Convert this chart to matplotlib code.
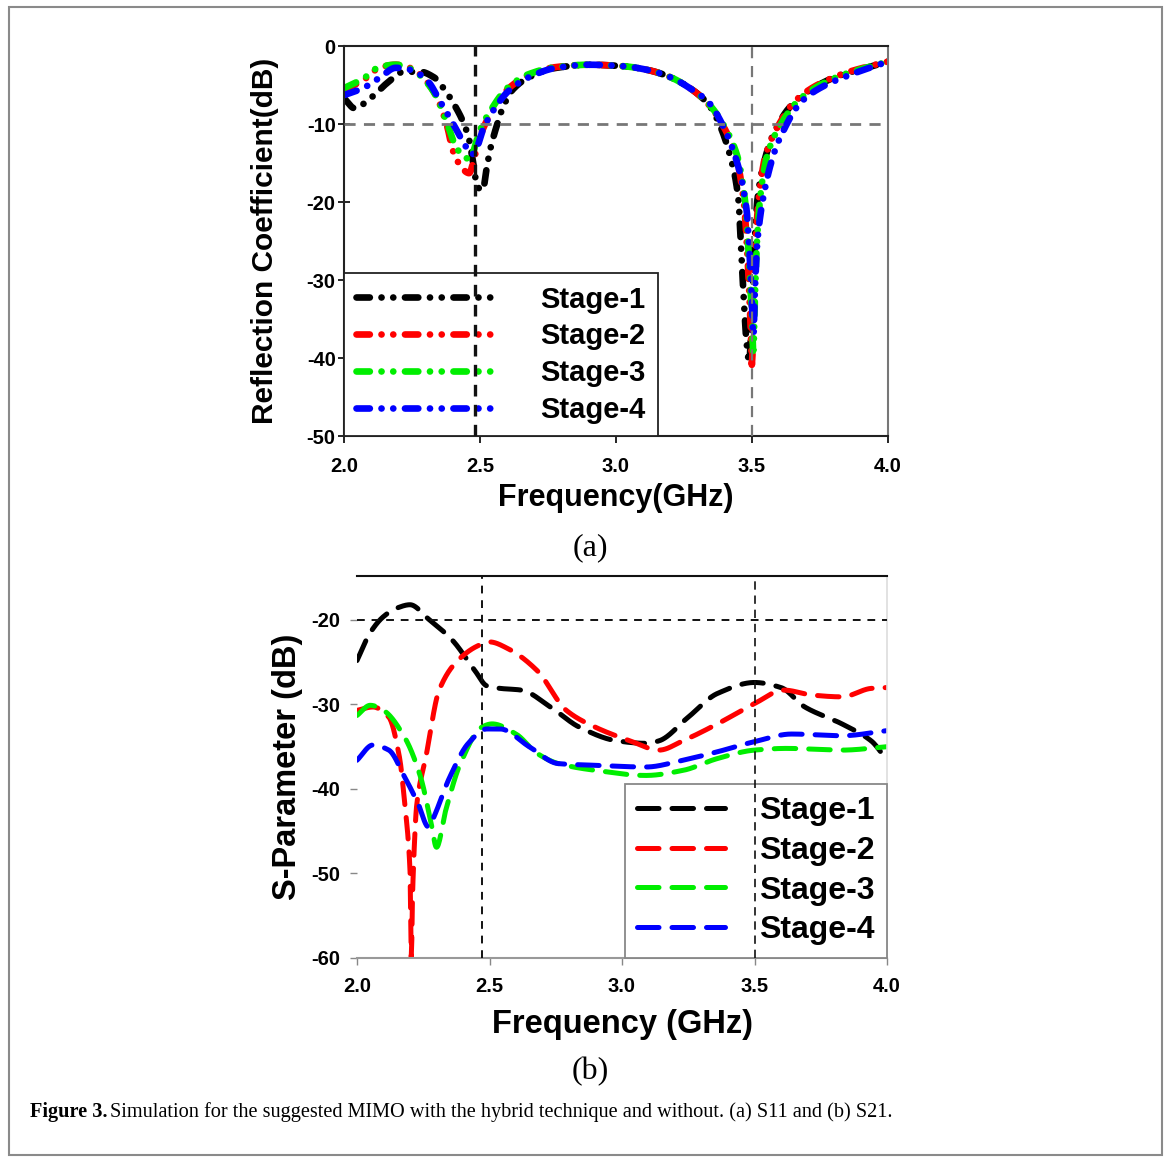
import numpy as np
import matplotlib
matplotlib.use("Agg")
import matplotlib.pyplot as plt
from matplotlib.patches import Rectangle

plt.rcParams["font.family"] = ["Liberation Sans", "DejaVu Sans"]

STAGES = ["Stage-1", "Stage-2", "Stage-3", "Stage-4"]
COLORS = ["#000000", "#ff0000", "#00ee00", "#0000ff"]

# (a) S11 reflection coefficient, dB
f1_s11 = [2.00, 2.04, 2.08, 2.12, 2.16, 2.22, 2.28, 2.33, 2.37, 2.41, 2.44, 2.46, 2.475, 2.49, 2.51, 2.525,
          2.54, 2.56, 2.585, 2.62, 2.68, 2.78, 2.90, 3.03, 3.12, 3.20, 3.28, 3.34, 3.38, 3.43, 3.45, 3.46,
          3.47, 3.48, 3.49, 3.50, 3.51, 3.52, 3.54, 3.58, 3.64, 3.72, 3.82, 3.92, 4.00]
s11_1 = [-6.7, -8.0, -7.2, -6.0, -4.7, -3.3, -3.3, -4.0, -5.6, -7.8, -9.9, -12.0, -15.0, -18.0, -18.5, -15.5,
         -12.9, -10.4, -7.8, -5.6, -4.0, -2.8, -2.4, -2.6, -3.1, -4.0, -5.6, -7.5, -10.0, -15.5, -19.7, -26.0,
         -32.6, -38.0, -40.5, -33.0, -25.0, -19.7, -15.5, -11.2, -7.8, -5.5, -3.8, -2.8, -2.0]
f2_s11 = [2.00, 2.07, 2.13, 2.19, 2.25, 2.30, 2.34, 2.38, 2.40, 2.44, 2.46, 2.48, 2.50, 2.54, 2.60, 2.68,
          2.78, 2.90, 3.03, 3.12, 3.20, 3.28, 3.34, 3.39, 3.44, 3.47, 3.485, 3.495, 3.50, 3.505, 3.515,
          3.53, 3.55, 3.60, 3.66, 3.74, 3.84, 3.93, 4.00]
s11_2 = [-5.6, -4.4, -2.8, -2.4, -2.9, -4.4, -6.5, -10.4, -13.4, -15.9, -16.3, -14.2, -11.6, -8.6, -5.6, -3.7,
         -2.7, -2.4, -2.6, -3.1, -4.0, -5.6, -7.5, -10.0, -14.0, -20.0, -28.0, -36.0, -41.0, -34.0, -24.0,
         -18.0, -14.0, -10.0, -7.0, -5.0, -3.5, -2.6, -2.0]
f3_s11 = [2.00, 2.07, 2.13, 2.19, 2.25, 2.30, 2.34, 2.38, 2.41, 2.44, 2.465, 2.48, 2.50, 2.54, 2.60, 2.68,
          2.78, 2.90, 3.03, 3.12, 3.20, 3.28, 3.34, 3.39, 3.445, 3.475, 3.49, 3.50, 3.505, 3.51, 3.52,
          3.535, 3.56, 3.61, 3.67, 3.75, 3.85, 3.94, 4.00]
s11_3 = [-5.4, -4.2, -2.7, -2.4, -3.0, -4.5, -6.5, -10.0, -12.8, -14.2, -14.5, -13.0, -10.8, -8.2, -5.4, -3.6,
         -2.7, -2.4, -2.6, -3.1, -4.0, -5.6, -7.4, -9.8, -14.0, -20.0, -28.0, -35.0, -39.5, -33.0, -24.0,
         -18.0, -13.5, -9.8, -7.0, -5.0, -3.5, -2.6, -2.0]
f4_s11 = [2.00, 2.07, 2.13, 2.19, 2.25, 2.31, 2.35, 2.40, 2.44, 2.47, 2.49, 2.51, 2.55, 2.61, 2.68, 2.78,
          2.90, 3.03, 3.12, 3.20, 3.28, 3.34, 3.39, 3.45, 3.48, 3.49, 3.50, 3.505, 3.51, 3.52, 3.54, 3.57,
          3.60, 3.68, 3.76, 3.86, 3.94, 4.00]
s11_4 = [-6.3, -5.4, -4.1, -2.8, -3.1, -4.6, -6.9, -9.9, -12.4, -13.9, -12.9, -10.8, -8.2, -5.6, -4.0, -2.8,
         -2.4, -2.6, -3.1, -4.0, -5.6, -7.2, -10.0, -15.5, -21.0, -26.0, -33.0, -37.5, -32.0, -25.0, -19.7, -15.0,
         -12.0, -7.2, -5.2, -3.7, -2.7, -2.0]

# (b) S21 S-parameter, dB
f1_s21 = [2.00, 2.05, 2.10, 2.15, 2.20, 2.27, 2.36, 2.445, 2.49, 2.54, 2.62, 2.73, 2.84, 2.98, 3.09, 3.14,
          3.25, 3.36, 3.50, 3.60, 3.69, 3.83, 3.94, 4.00]
s21_1 = [-24.8, -21.5, -19.6, -18.6, -18.2, -19.9, -22.4, -26.0, -27.8, -28.1, -28.3, -30.3, -32.7, -34.3, -34.6, -34.3,
         -31.5, -28.7, -27.4, -28.0, -30.3, -32.3, -34.3, -36.6]
f2_s21 = [2.00, 2.06, 2.12, 2.16, 2.18, 2.20, 2.205, 2.21, 2.226, 2.26, 2.31, 2.38, 2.46, 2.50, 2.57, 2.68,
          2.79, 2.90, 3.03, 3.14, 3.23, 3.36, 3.50, 3.61, 3.72, 3.83, 3.94, 4.00]
s21_2 = [-30.7, -30.3, -31.5, -36.2, -41.7, -49.6, -60.0, -52.0, -41.7, -36.2, -28.3, -24.8, -23.0, -22.6, -23.4, -26.0,
         -30.7, -32.7, -34.3, -35.4, -34.3, -32.3, -29.9, -28.3, -28.9, -29.1, -28.1, -28.0]
f3_s21 = [2.00, 2.05, 2.10, 2.18, 2.24, 2.28, 2.30, 2.335, 2.39, 2.47, 2.51, 2.60, 2.68, 2.76, 2.90, 3.09,
          3.23, 3.36, 3.50, 3.62, 3.83, 4.00]
s21_3 = [-31.3, -30.1, -30.7, -33.9, -38.6, -44.1, -46.9, -42.5, -37.0, -32.7, -32.3, -33.5, -35.8, -37.0, -37.8, -38.4,
         -37.8, -36.4, -35.4, -35.2, -35.4, -35.0]
f4_s21 = [2.00, 2.06, 2.12, 2.18, 2.23, 2.27, 2.29, 2.35, 2.42, 2.49, 2.54, 2.65, 2.76, 2.90, 3.09, 3.23,
          3.36, 3.50, 3.64, 3.83, 4.00]
s21_4 = [-36.6, -34.8, -35.4, -38.6, -41.7, -44.5, -43.3, -38.6, -34.6, -32.9, -32.9, -35.0, -37.0, -37.2, -37.4, -36.6,
         -35.6, -34.4, -33.5, -33.7, -33.1]

s11 = [(f1_s11, s11_1), (f2_s11, s11_2), (f3_s11, s11_3), (f4_s11, s11_4)]
s21 = [(f1_s21, s21_1), (f2_s21, s21_2), (f3_s21, s21_3), (f4_s21, s21_4)]


def smooth(x, y, n=400):
    # dense resample between the read points (cubic Hermite, harmonic-mean slopes)
    x = np.asarray(x, float); y = np.asarray(y, float)
    d = np.diff(y) / np.diff(x)
    m = np.zeros_like(y)
    m[1:-1] = np.where(d[:-1] * d[1:] > 0, 2 / (1 / d[:-1] + 1 / d[1:]), 0)
    m[0], m[-1] = d[0], d[-1]
    xs = np.linspace(x[0], x[-1], n)
    i = np.clip(np.searchsorted(x, xs) - 1, 0, len(x) - 2)
    h = x[i + 1] - x[i]; t = (xs - x[i]) / h
    ys = ((2*t**3 - 3*t**2 + 1) * y[i] + (t**3 - 2*t**2 + t) * h * m[i]
          + (-2*t**3 + 3*t**2) * y[i + 1] + (t**3 - t**2) * h * m[i + 1])
    return xs, ys


W, H = 1171, 1164
fig = plt.figure(figsize=(W / 100, H / 100), dpi=100)
fig.patches.append(Rectangle((9 / W, 1 - 1155 / H), 1153 / W, 1148 / H, transform=fig.transFigure,
                             fill=False, edgecolor="#8a8a8a", linewidth=1.5))

# ---------- (a) ----------
ax = fig.add_axes([344 / W, 1 - 436 / H, 544 / W, 390 / H])
for (x, y), c, lab in zip(s11, COLORS, STAGES):
    xs, ys = smooth(x, y, 900)
    ln, = ax.plot(xs, ys, color=c, lw=4.8, solid_capstyle="round", dash_capstyle="round", label=lab)
    ln.set_dashes([2.0, 1.75, 0.01, 1.75, 0.01, 1.75])
ax.axhline(-10, color="#777777", lw=2, dashes=(4, 3), zorder=6)
ax.axvline(3.5, color="#777777", lw=1.6, dashes=(5, 3.5), zorder=6)
ax.axvline(2.48, color="#111111", lw=2.4, dashes=(3.5, 2.5), zorder=6)
ax.set_xlim(2.0, 4.0); ax.set_ylim(-50, 0)
ax.set_xticks([2.0, 2.5, 3.0, 3.5, 4.0]); ax.set_yticks([0, -10, -20, -30, -40, -50])
ax.set_xticklabels(["2.0", "2.5", "3.0", "3.5", "4.0"], fontweight="bold", fontsize=14.5)
ax.set_yticklabels(["0", "-10", "-20", "-30", "-40", "-50"], fontweight="bold", fontsize=14.5)
ax.tick_params(axis="y", direction="inout", length=8, width=1.2, pad=2)
ax.tick_params(axis="x", direction="out", length=5, width=1.2, pad=10)
for s in ["left", "top", "bottom"]:
    ax.spines[s].set_color("#222222"); ax.spines[s].set_linewidth(1.5)
ax.spines["right"].set_color("#777777"); ax.spines["right"].set_linewidth(1.5)
ax.set_ylabel("Reflection Coefficient(dB)", fontsize=21.5, fontweight="bold", labelpad=20)
ax.set_xlabel("Frequency(GHz)", fontsize=22, fontweight="bold", labelpad=5)
leg = ax.legend(loc="lower left", bbox_to_anchor=(0, 0), borderaxespad=0,
                prop={"weight": "bold", "size": 21}, handlelength=4.7, handletextpad=1.6,
                labelspacing=0.3, borderpad=0.42, fancybox=False, framealpha=1,
                edgecolor="#222222")
leg.get_frame().set_linewidth(1.3)
leg.set_zorder(5)
fig.text(590 / W, 1 - 548 / H, "(a)", ha="center", va="center", fontsize=23,
         family=["Liberation Serif", "DejaVu Serif"])

# ---------- (b) ----------
bx = fig.add_axes([357 / W, 1 - 958 / H, 530 / W, 382 / H])
for (x, y), c, lab in zip(s21, COLORS, STAGES):
    xs, ys = smooth(x, y, 900)
    ln, = bx.plot(xs, ys, color=c, lw=3.6, dash_capstyle="round", label=lab)
    ln.set_dashes([4.3, 2.6])
bx.axhline(-20, color="#111111", lw=1.4, dashes=(4, 3.5), zorder=6)
bx.axvline(2.47, color="#111111", lw=1.4, dashes=(4, 3.5), zorder=6)
bx.axvline(3.5, color="#111111", lw=1.2, dashes=(5, 3.5), zorder=6)
bx.set_xlim(2.0, 4.0); bx.set_ylim(-60, -14.8)
bx.set_xticks([2.0, 2.5, 3.0, 3.5, 4.0]); bx.set_yticks([-20, -30, -40, -50, -60])
bx.set_xticklabels(["2.0", "2.5", "3.0", "3.5", "4.0"], fontweight="bold", fontsize=14.5)
bx.set_yticklabels(["-20", "-30", "-40", "-50", "-60"], fontweight="bold", fontsize=14.5)
bx.tick_params(axis="y", direction="out", length=5, width=1, color="#888888", pad=7)
bx.tick_params(axis="x", direction="out", length=5, width=1, color="#888888", pad=9)
bx.spines["left"].set_visible(False)
bx.spines["top"].set_color("#111111"); bx.spines["top"].set_linewidth(1.5)
bx.spines["bottom"].set_color("#999999"); bx.spines["bottom"].set_linewidth(1.5)
bx.spines["right"].set_color("#dddddd"); bx.spines["right"].set_linewidth(1.2)
bx.set_ylabel("S-Parameter (dB)", fontsize=23.5, fontweight="bold", labelpad=6)
bx.set_xlabel("Frequency (GHz)", fontsize=23.5, fontweight="bold", labelpad=9)
leg2 = bx.legend(loc="lower right", bbox_to_anchor=(1, 0), borderaxespad=0,
                 prop={"weight": "bold", "size": 23}, handlelength=2.75, handletextpad=1.05,
                 labelspacing=0.3, borderpad=0.4, fancybox=False, framealpha=1,
                 edgecolor="#888888")
leg2.get_frame().set_linewidth(1.3)
leg2.set_zorder(5)
fig.text(590 / W, 1 - 1072 / H, "(b)", ha="center", va="center", fontsize=23,
         family=["Liberation Serif", "DejaVu Serif"])

# caption
serif = ["Liberation Serif", "DejaVu Serif"]
cap1 = fig.text(30 / W, 1 - 1112 / H, "Figure 3.", ha="left", va="center", fontsize=14.6,
                fontweight="bold", family=serif)
fig.canvas.draw()
bb = cap1.get_window_extent()
fig.text((bb.x1 + 3) / W, 1 - 1112 / H,
         "Simulation for the suggested MIMO with the hybrid technique and without. (a) S11 and (b) S21.",
         ha="left", va="center", fontsize=14.6, family=serif)

fig.savefig("out.png", dpi=100)
